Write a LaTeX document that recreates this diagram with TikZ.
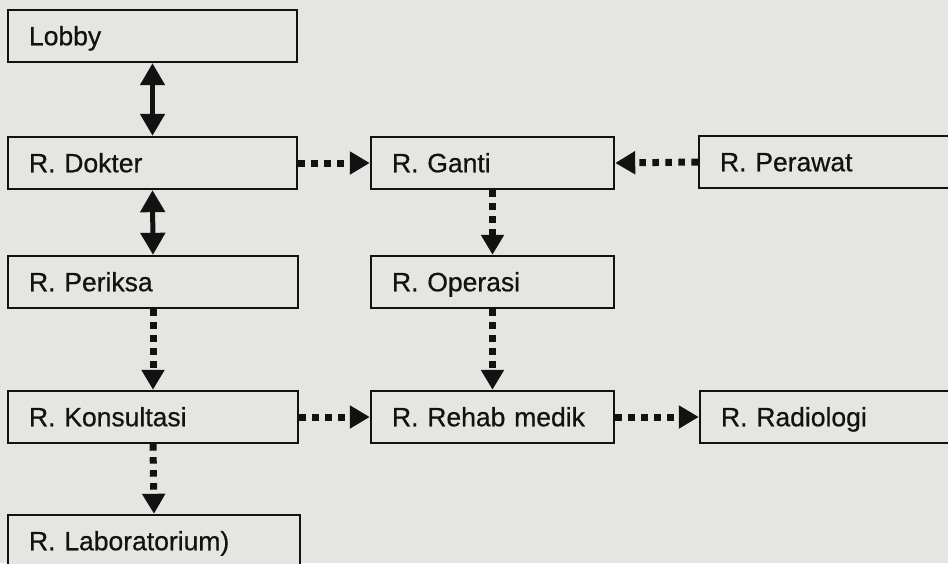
\documentclass[tikz,border=0pt]{standalone}
\usepackage{fontspec}
\setmainfont{Liberation Sans}
\newfontfamily\roomfont{Liberation Sans}[FakeBold=0.6]
\usetikzlibrary{arrows.meta}
\definecolor{paper}{RGB}{229,229,225}
\definecolor{ink}{RGB}{18,18,18}
\tikzset{
  room/.style={draw=ink, line width=2.4pt, fill=paper, rectangle,
    inner xsep=21pt, inner ysep=0pt, minimum height=52pt,
    text height=18.5pt, text depth=0pt, align=left, text width=#1,
    font=\roomfont\fontsize{26.5pt}{30pt}\selectfont, text=ink},
  twoway/.style={draw=ink, line width=5pt,
    {Triangle[width=24pt,length=22pt]}-{Triangle[width=24pt,length=22pt]}},
  flow/.style={draw=ink, line width=7pt, dash pattern=on 6.5pt off 6.5pt,
    -{Triangle[width=22pt,length=20pt]}},
}
\begin{document}
\begin{tikzpicture}[x=1pt,y=-1pt]
  \useasboundingbox (0,0) rectangle (948,563);
  \clip (0,0) rectangle (948,563);
  \fill[paper] (0,0) rectangle (948,563);

  % left column
  \node[room=247pt] (lobby)  at (152.5,36)  {Lobby};
  \node[room=247pt] (dokter) at (152.5,163) {R. Dokter};
  \node[room=248pt] (periksa) at (153,282) {R. Periksa};
  \node[room=248pt] (konsul) at (153,417) {R. Konsultasi};
  \node[room=250pt] (lab)    at (154,541) {R. Laboratorium)};

  % middle column
  \node[room=201pt] (ganti)   at (492.5,163) {R. Ganti};
  \node[room=201pt] (operasi) at (492.5,282) {R. Operasi};
  \node[room=201pt] (rehab)   at (492.5,417) {R. Rehab medik};

  % right column
  \node[room=218pt] (perawat)   at (829,162) {R. Perawat};
  \node[room=218pt] (radiologi) at (830,417) {R. Radiologi};

  % two-way links
  \draw[twoway] (lobby.south) -- (dokter.north);
  \draw[twoway] (dokter.south) -- (periksa.north);

  % dotted flow
  \draw[flow] (periksa.south) -- (konsul.north);
  \draw[flow] (konsul.south) -- (lab.north);
  \draw[flow] (dokter.east) -- (ganti.west);
  \draw[flow] (perawat.west) -- (ganti.east);
  \draw[flow] (ganti.south) -- (operasi.north);
  \draw[flow] (operasi.south) -- (rehab.north);
  \draw[flow] (konsul.east) -- (rehab.west);
  \draw[flow] (rehab.east) -- (radiologi.west);
\end{tikzpicture}
\end{document}
